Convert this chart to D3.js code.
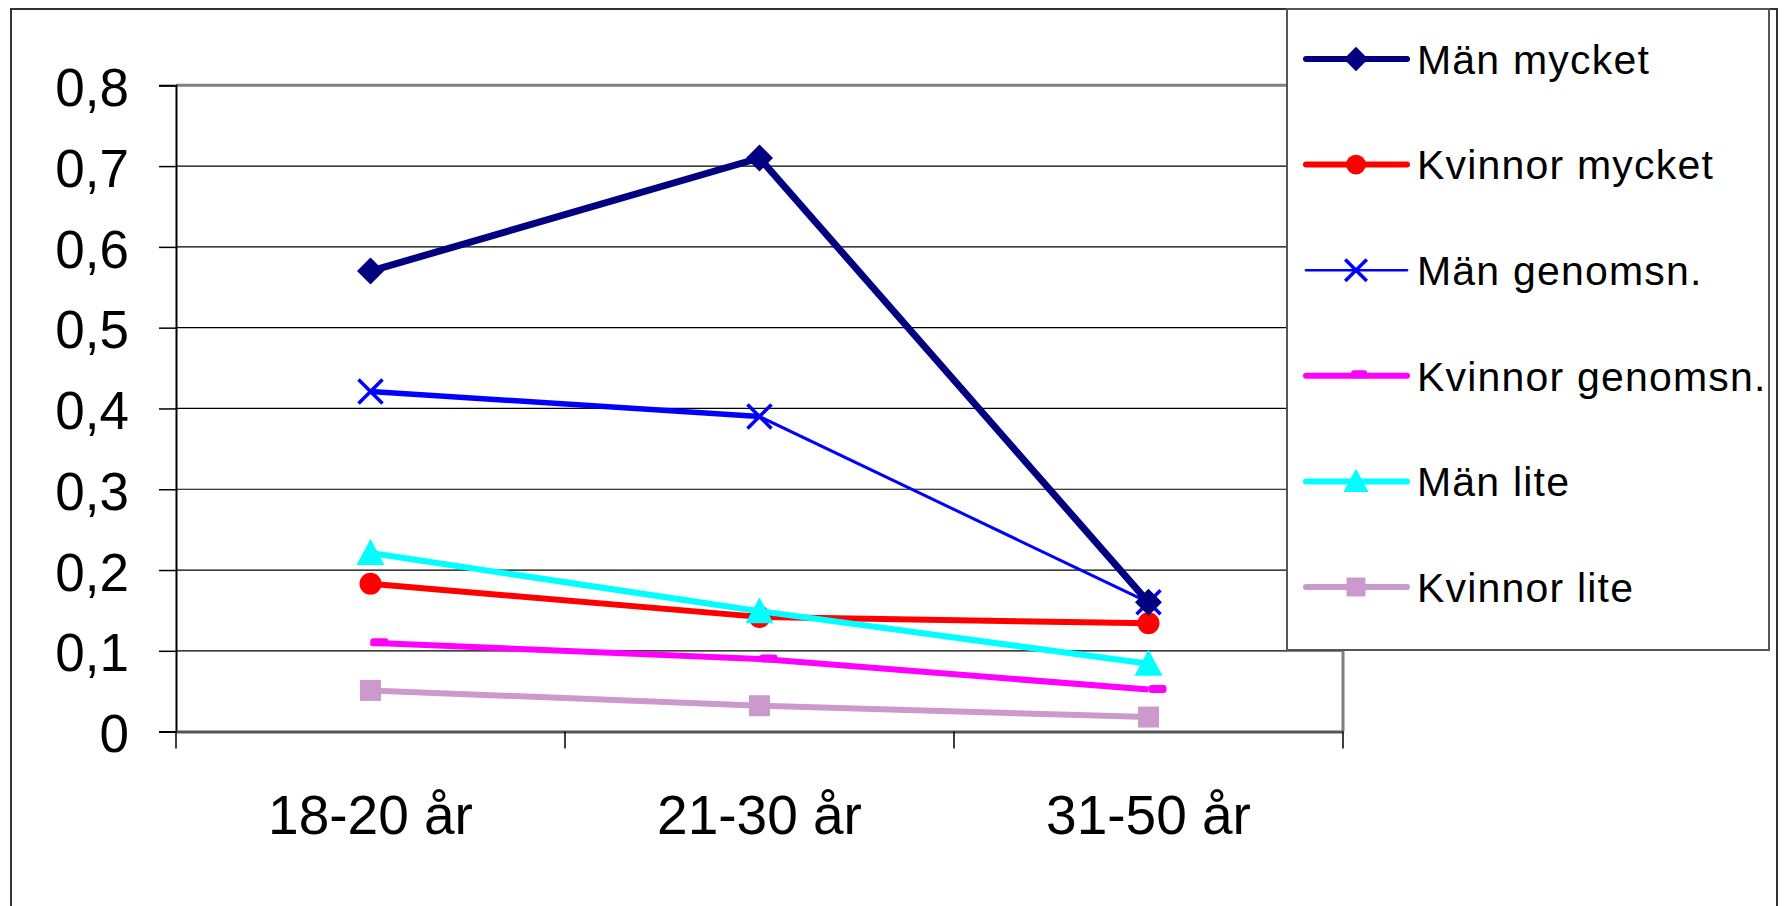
<!DOCTYPE html>
<html>
<head>
<meta charset="utf-8">
<script src="https://cdn.jsdelivr.net/npm/d3@7"></script>
<style>
  body { margin: 0; background: #fff; }
  svg { display: block; font-family: "Liberation Sans", Arial, sans-serif; }
</style>
</head>
<body>
<div id="chart"></div>
<script>
const categories = ['18-20 år', '21-30 år', '31-50 år'];
const yTicks = [0, 0.1, 0.2, 0.3, 0.4, 0.5, 0.6, 0.7, 0.8];

const manMycket = [0.57, 0.71, 0.16];
const kvinnorMycket = [0.183, 0.142, 0.134];
const manGenomsn = [0.421, 0.39, 0.16];
const kvinnorGenomsn = [0.11, 0.09, 0.052];
const manLite = [0.221, 0.149, 0.084];
const kvinnorLite = [0.051, 0.032, 0.018];

const seriesNames = ['Män mycket', 'Kvinnor mycket', 'Män genomsn.', 'Kvinnor genomsn.', 'Män lite', 'Kvinnor lite'];

const series = [
  { name: seriesNames[0], values: manMycket, color: '#000080', width: 7, marker: 'diamond' },
  { name: seriesNames[1], values: kvinnorMycket, color: '#ff0000', width: 6, marker: 'circle' },
  { name: seriesNames[2], values: manGenomsn, color: '#0000ff', width: 3, marker: 'x' },
  { name: seriesNames[3], values: kvinnorGenomsn, color: '#ff00ff', width: 6, marker: 'dash' },
  { name: seriesNames[4], values: manLite, color: '#00ffff', width: 6, marker: 'triangle' },
  { name: seriesNames[5], values: kvinnorLite, color: '#cc99cc', width: 6, marker: 'square' },
];

const size = { width: 1784, height: 906 };
const plot = { left: 176, right: 1343, top: 85.3, bottom: 731.6 };

const svg = d3.select('#chart').append('svg')
  .attr('width', size.width)
  .attr('height', size.height);

// outer chart border
svg.append('rect')
  .attr('x', 11).attr('y', 9)
  .attr('width', 1766).attr('height', 950)
  .attr('fill', 'none').attr('stroke', '#333').attr('stroke-width', 2);

const x = d3.scaleBand().domain(categories).range([plot.left, plot.right]);
const y = d3.scaleLinear().domain([0, 0.8]).range([plot.bottom, plot.top]);
const cx = (c) => x(c) + x.bandwidth() / 2;

// gridlines
svg.append('g')
  .selectAll('line')
  .data(yTicks.slice(1, -1))
  .enter()
  .append('line')
  .attr('x1', plot.left).attr('x2', plot.right)
  .attr('y1', (d) => y(d)).attr('y2', (d) => y(d))
  .attr('stroke', '#000').attr('stroke-width', 1.2);

// plot area top/right border (gray)
svg.append('path')
  .attr('d', `M${plot.left},${y(0.8)}H${plot.right}V${plot.bottom}`)
  .attr('fill', 'none').attr('stroke', '#808080').attr('stroke-width', 3);

// y axis
const fmt = (d) => (d === 0 ? '0' : d3.format('.1f')(d).replace('.', ','));
const yAxis = svg.append('g')
  .attr('transform', `translate(${plot.left},0)`)
  .call(d3.axisLeft(y).tickValues(yTicks).tickFormat(fmt).tickSize(17).tickPadding(30));
yAxis.select('.domain').attr('stroke', '#000').attr('stroke-width', 2);
yAxis.selectAll('.tick line').attr('stroke', '#000').attr('stroke-width', 1.5);
yAxis.selectAll('.tick text')
  .attr('font-size', 53)
  .attr('fill', '#000')
  .attr('dy', '0.38em')
  .attr('font-family', '"Liberation Sans", Arial, sans-serif');

// x axis
const xAxis = svg.append('g')
  .attr('transform', `translate(0,${plot.bottom})`)
  .call(d3.axisBottom(x).tickSize(0).tickPadding(63));
xAxis.select('.domain').attr('stroke', '#555').attr('stroke-width', 3);
xAxis.selectAll('.tick text')
  .attr('font-size', 55)
  .attr('fill', '#000')
  .attr('font-family', '"Liberation Sans", Arial, sans-serif');

// x tick marks at category boundaries
svg.append('g')
  .selectAll('line')
  .data([plot.left, ...categories.slice(1).map((c) => x(c)), plot.right])
  .enter()
  .append('line')
  .attr('x1', (d) => d).attr('x2', (d) => d)
  .attr('y1', plot.bottom).attr('y2', plot.bottom + 17)
  .attr('stroke', '#000').attr('stroke-width', 1.5);

const drawMarker = (g, s, px, py, scale) => {
  const k = scale || 1;
  if (s.marker === 'diamond') {
    const r = 13.5 * k;
    g.append('path')
      .attr('d', `M${px},${py - r}L${px + r},${py}L${px},${py + r}L${px - r},${py}Z`)
      .attr('fill', s.color);
  } else if (s.marker === 'circle') {
    g.append('circle').attr('cx', px).attr('cy', py).attr('r', 11 * k).attr('fill', s.color);
  } else if (s.marker === 'x') {
    const r = 12 * k;
    g.append('path')
      .attr('d', `M${px - r},${py - r}L${px + r},${py + r}M${px - r},${py + r}L${px + r},${py - r}`)
      .attr('stroke', s.color).attr('stroke-width', 3.5).attr('fill', 'none');
  } else if (s.marker === 'dash') {
    g.append('rect')
      .attr('x', px).attr('y', py - 4.5)
      .attr('width', 18 * k).attr('height', 8)
      .attr('rx', 3)
      .attr('fill', s.color);
  } else if (s.marker === 'triangle') {
    const r = 14 * k;
    g.append('path')
      .attr('d', `M${px},${py - r}L${px + r},${py + r * 0.85}L${px - r},${py + r * 0.85}Z`)
      .attr('fill', s.color);
  } else if (s.marker === 'square') {
    const r = 10.5 * k;
    g.append('rect')
      .attr('x', px - r).attr('y', py - r)
      .attr('width', 2 * r).attr('height', 2 * r)
      .attr('fill', s.color);
  }
};

const line = d3.line()
  .x((d) => cx(d.cat))
  .y((d) => y(d.v));

// draw series back to front so that Män mycket is on top
const order = [5, 3, 1, 4, 2, 0];
order.forEach((i) => {
  const s = series[i];
  const pts = categories.map((cat, j) => ({ cat, v: s.values[j] }));
  const g = svg.append('g');
  g.append('path')
    .datum(pts)
    .attr('d', line)
    .attr('fill', 'none')
    .attr('stroke', s.color)
    .attr('stroke-width', s.width)
    .attr('stroke-linejoin', 'round');
  // the first segment of Män genomsn. is drawn heavier in the original
  if (s.marker === 'x') {
    g.append('path')
      .datum(pts.slice(0, 2))
      .attr('d', line)
      .attr('fill', 'none')
      .attr('stroke', s.color)
      .attr('stroke-width', 5.5);
  }
  pts.forEach((p) => drawMarker(g, s, cx(p.cat), y(p.v)));
});

// legend
const legend = svg.append('g');
legend.append('rect')
  .attr('x', 1287).attr('y', 9)
  .attr('width', 482).attr('height', 641)
  .attr('fill', '#fff').attr('stroke', '#555').attr('stroke-width', 2);

const legendY = d3.scalePoint().domain(seriesNames).range([59, 587]);
series.forEach((s) => {
  const ly = legendY(s.name);
  const g = legend.append('g');
  g.append('line')
    .attr('x1', 1306).attr('x2', 1407)
    .attr('y1', ly).attr('y2', ly)
    .attr('stroke', s.color)
    .attr('stroke-width', s.marker === 'x' ? 2.5 : 6)
    .attr('stroke-linecap', 'round');
  if (s.marker === 'dash') {
    drawMarker(g, s, 1351, ly - 1, 0.9);
  } else {
    drawMarker(g, s, 1356, ly, 0.9);
  }
  g.append('text')
    .attr('x', 1417).attr('y', ly)
    .attr('dy', '0.36em')
    .attr('font-size', 41)
    .attr('letter-spacing', 1.2)
    .attr('fill', '#000')
    .text(s.name);
});
</script>
</body>
</html>
